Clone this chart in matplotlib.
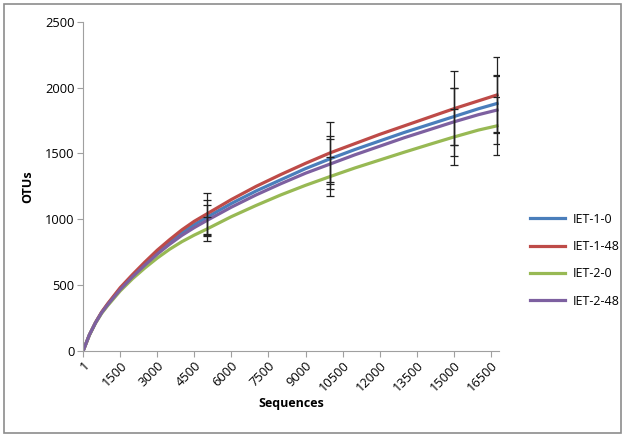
import matplotlib
matplotlib.use("Agg")
from matplotlib import pyplot as plt
from matplotlib.patches import Rectangle

# rarefaction data
seqs = [1, 250, 500, 750, 1000, 1500, 2000, 2500, 3000, 3500, 4000, 4500,
        5000, 6000, 7000, 8000, 9000, 10000, 11000, 12000, 13000, 14000,
        15000, 16000, 16750]
iet_1_0 = [0, 120, 215, 292, 355, 470, 570, 662, 748, 826, 898, 960,
           1015, 1120, 1215, 1300, 1385, 1460, 1530, 1595, 1660, 1720,
           1780, 1840, 1880]
iet_1_48 = [0, 120, 215, 295, 360, 480, 580, 675, 765, 845, 920, 985,
            1040, 1150, 1250, 1340, 1425, 1505, 1575, 1645, 1710, 1775,
            1840, 1900, 1945]
iet_2_0 = [0, 118, 210, 285, 345, 455, 548, 630, 705, 772, 830, 880,
           925, 1020, 1105, 1185, 1258, 1325, 1390, 1450, 1510, 1568,
           1625, 1678, 1710]
iet_2_48 = [0, 120, 212, 290, 352, 465, 563, 652, 735, 810, 878, 937,
            990, 1092, 1185, 1270, 1350, 1420, 1490, 1555, 1620, 1680,
            1740, 1795, 1830]

# error bars (mean, error) per series at err_x
err_x = [5000, 10000, 15000, 16750]
err_1_0 = ([1015, 1460, 1780, 1880], [130, 175, 215, 220])
err_1_48 = ([1040, 1505, 1845, 1945], [160, 235, 280, 290])
err_2_0 = ([925, 1325, 1625, 1710], [90, 150, 210, 220])
err_2_48 = ([990, 1420, 1740, 1830], [120, 190, 260, 260])

labels = ["IET-1-0", "IET-1-48", "IET-2-0", "IET-2-48"]
colors = ["#4A7EBB", "#BE4B48", "#98B954", "#7D60A0"]
xticks = [1] + list(range(1500, 16501, 1500))
yticks = [0, 500, 1000, 1500, 2000, 2500]

plt.rcParams['font.family'] = ['Open Sans', 'DejaVu Sans']
fig = plt.figure(figsize=(6.25, 4.38), dpi=100)
fig.patches.append(Rectangle((0.006, 0.012), 0.988, 0.978, transform=fig.transFigure,
                             fill=False, edgecolor="#8c8c8c", linewidth=1.2))
ax = fig.add_axes([0.133, 0.199, 0.665, 0.751])

series = [iet_1_0, iet_1_48, iet_2_0, iet_2_48]
errs = [err_1_0, err_1_48, err_2_0, err_2_48]
for ys, lab, c in zip(series, labels, colors):
    ax.plot(seqs, ys, color=c, lw=2.3, label=lab)
for m, e in errs:
    ax.errorbar(err_x, m, yerr=e, fmt="none", ecolor="#222222", elinewidth=0.9,
                capsize=3, capthick=0.9)

ax.set_xlim(0, 16820)
ax.set_ylim(0, 2500)
ax.set_xticks(xticks)
ax.set_xticklabels([str(t) for t in xticks], rotation=45, ha="right",
                   rotation_mode="anchor", fontsize=9.3)
ax.set_yticks(yticks)
ax.set_yticklabels([str(t) for t in yticks], fontsize=9.3)
for s in ["top", "right"]:
    ax.spines[s].set_visible(False)
for s in ["left", "bottom"]:
    ax.spines[s].set_color("#a0a0a0")
ax.tick_params(axis="both", direction="out", length=4, color="#a0a0a0", pad=2)
ax.set_xlabel("Sequences", fontsize=9, fontweight="bold", labelpad=2)
ax.set_ylabel("OTUs", fontsize=9, fontweight="bold", labelpad=8)

fig.legend(loc="upper left", bbox_to_anchor=(0.83, 0.54), frameon=False,
           fontsize=9, handlelength=2.8, labelspacing=1.15, handletextpad=0.6)

fig.savefig("out.png", dpi=100)
